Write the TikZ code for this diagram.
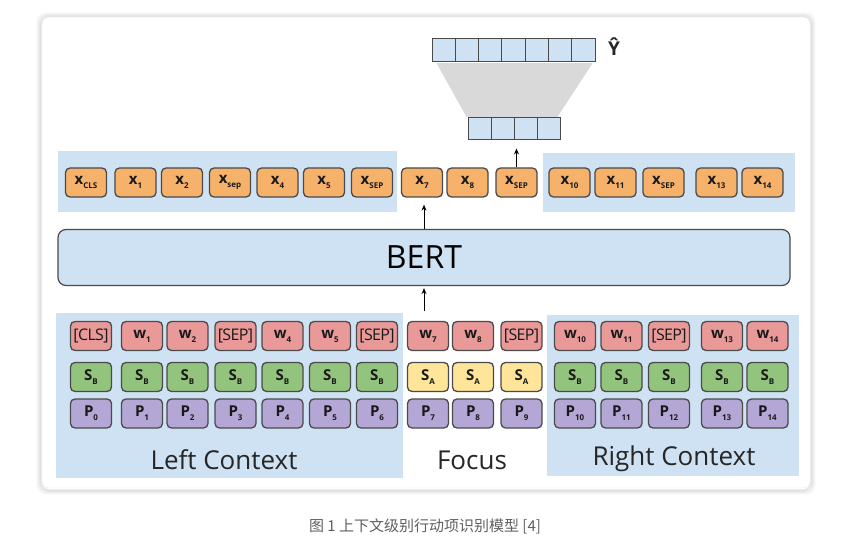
\documentclass[tikz,border=0pt]{standalone}
\usepackage{fontspec}
\setmainfont{Open Sans}
\newfontfamily\cjk{Noto Sans CJK SC}
\usetikzlibrary{arrows.meta,calc}
\definecolor{orangec}{HTML}{F6B26B}
\definecolor{redc}{HTML}{EA9999}
\definecolor{greenc}{HTML}{93C47D}
\definecolor{yellowc}{HTML}{FFE599}
\definecolor{purplec}{HTML}{B4A7D6}
\definecolor{panelc}{HTML}{CFE2F3}
\definecolor{edgec}{HTML}{4A4A4A}
\definecolor{trapc}{HTML}{D9D9D9}
\definecolor{capc}{HTML}{5F5F5F}
\newcommand{\tk}[2]{\textbf{#1}\raisebox{-0.5ex}{\fontsize{8}{8}\selectfont\textbf{#2}}}
\tikzset{
  tokbox/.style={draw=edgec, line width=1.3pt, rounded corners=4.5pt, minimum width=41pt, minimum height=29pt, inner sep=0pt, font=\fontsize{15}{15}\selectfont, text=black!90},
  obox/.style={tokbox, fill=orangec},
  wbox/.style={tokbox, fill=redc},
  gbox/.style={tokbox, fill=greenc},
  ybox/.style={tokbox, fill=yellowc},
  pbox/.style={tokbox, fill=purplec},
  panel/.style={fill=panelc, draw=none},
  cell/.style={draw=edgec, line width=1pt, fill=panelc, minimum width=23.3pt, minimum height=23pt, inner sep=0pt},
  arr/.style={-{Stealth[length=6pt,width=5pt]}, line width=1pt, black},
  ctx/.style={font=\fontsize{26}{26}\selectfont, text=black!85}
}
\newcommand{\brk}[1]{{\fontsize{16}{16}\selectfont\addfontfeature{LetterSpace=-4}#1}}
\begin{document}
\begin{tikzpicture}[x=1pt,y=-1pt]
\useasboundingbox (0,0) rectangle (855,548);
% card with soft shadow
\foreach \k in {1,...,5}
  \draw[rounded corners=8pt, line width=1.2pt, black, opacity=0.022*(6-\k)] (42-\k,17-\k+1) rectangle (810+\k,488+\k+1);
\draw[rounded corners=7pt, fill=white, draw=black!8] (42,17) rectangle (810,488);
% panels
\fill[panel] (58,151) rectangle (397,212);
\fill[panel] (543,153) rectangle (795,212);
\fill[panel] (56,313) rectangle (403,478);
\fill[panel] (547,315) rectangle (799,476);
% output vectors
\foreach \i in {1,...,7}
  \node[cell] (b\i) at ({432+11.65+23.3*(\i-1)},50.5) {};
\foreach \i in {1,...,4}
  \node[cell, minimum width=23pt, minimum height=22pt] (s\i) at ({468+11.5+23*(\i-1)},129) {};
\fill[trapc] ($(b1.south west)+(5,0.6)$) -- ($(b7.south east)+(-3,0.6)$) -- ($(s4.north east)+(-3,-0.6)$) -- ($(s1.north west)+(-1,-0.6)$) -- cycle;
\draw[edgec, line width=1.6pt] (s3.north east) -- (s3.south east);
\node[font=\fontsize{19}{19}\selectfont\bfseries, text=black!85] (yhat) at (614,47) {Ŷ};
% x row
\foreach \n/\cx/\lab in {1/86/{\tk{x}{CLS}},2/135.5/{\tk{x}{1}},3/182/{\tk{x}{2}},4/230/{\tk{x}{sep}},5/277.5/{\tk{x}{4}},6/324/{\tk{x}{5}},7/372/{\tk{x}{SEP}},8/422/{\tk{x}{7}},9/467.5/{\tk{x}{8}},10/516.5/{\tk{x}{SEP}},11/569.5/{\tk{x}{10}},12/615.5/{\tk{x}{11}},13/663.5/{\tk{x}{SEP}},14/716.5/{\tk{x}{13}},15/762.5/{\tk{x}{14}}}
  \node[obox] (x\n) at (\cx,182.5) {\lab};
% BERT
\node[draw=edgec, line width=1.2pt, fill=panelc, rounded corners=8pt, minimum width=732pt, minimum height=56pt, inner sep=0pt, font=\fontsize{32}{32}\selectfont, text=black] (bert) at (424,257.5) {BERT};
% w row
\foreach \n/\cx/\lab in {1/91/{\brk{[CLS]}},2/142/{\tk{w}{1}},3/187.5/{\tk{w}{2}},4/235.5/{\brk{[SEP]}},5/282.5/{\tk{w}{4}},6/330/{\tk{w}{5}},7/377/{\brk{[SEP]}},8/428/{\tk{w}{7}},9/473/{\tk{w}{8}},10/521.5/{\brk{[SEP]}},11/575/{\tk{w}{10}},12/621.5/{\tk{w}{11}},13/669/{\brk{[SEP]}},14/722/{\tk{w}{13}},15/767.5/{\tk{w}{14}}}
  \node[wbox] (w\n) at (\cx,336) {\lab};
% segment row
\foreach \n/\cx in {1/91,2/142,3/187.5,4/235.5,5/282.5,6/330,7/377,11/575,12/621.5,13/669,14/722,15/767.5}
  \node[gbox] (sg\n) at (\cx,377) {\tk{S}{B}};
\foreach \n/\cx in {8/428,9/473,10/521.5}
  \node[ybox] (sg\n) at (\cx,377) {\tk{S}{A}};
% position row
\foreach \n/\cx/\k in {1/91/0,2/142/1,3/187.5/2,4/235.5/3,5/282.5/4,6/330/5,7/377/6,8/428/7,9/473/8,10/521.5/9,11/575/10,12/621.5/11,13/669/12,14/722/13,15/767.5/14}
  \node[pbox] (p\n) at (\cx,413.5) {\tk{P}{\k}};
% context labels
\node[ctx] (lc) at (224,460) {Left Context};
\node[ctx] (fc) at (472,460) {Focus};
\node[ctx] (rc) at (674,459) {Right Context};
% arrows
\draw[arr, shorten <=10pt, shorten >=2pt] (bert.south |- w8.north) -- (bert.south);
\draw[arr, shorten >=7pt] (bert.north) -- (bert.north |- x8.south);
\draw[arr, shorten >=8pt] (x10.north) -- (x10.north |- s1.south);
% caption
\node[font=\cjk\fontsize{15}{15}\selectfont, text=capc] (cap) at (425,526) {图 1 上下文级别行动项识别模型 [4]};
\end{tikzpicture}
\end{document}
